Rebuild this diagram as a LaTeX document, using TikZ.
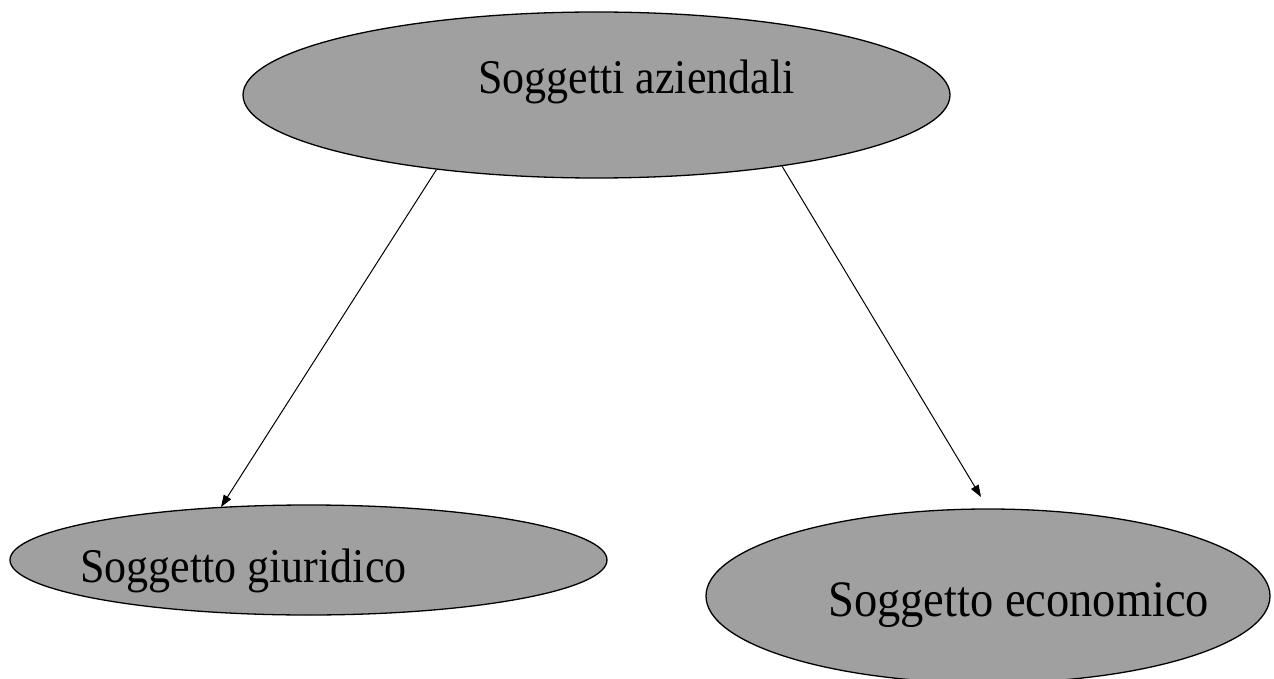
\documentclass[tikz,border=0pt]{standalone}
\usepackage{fontspec}
\setmainfont{Liberation Serif}
\usetikzlibrary{shapes.geometric,arrows.meta}
\definecolor{ovalgray}{RGB}{160,160,160}
\newcommand{\tallstretch}[1]{\scalebox{1}[1.1]{#1}}
\begin{document}
\begin{tikzpicture}[x=1pt,y=-1pt,
  oval/.style={ellipse,draw=black,line width=1.3pt,fill=ovalgray,inner sep=0pt},
  lbl/.style={anchor=base west,inner sep=0pt,font=\fontsize{44}{48}\selectfont},
  conn/.style={line width=1pt,-{Triangle[length=12pt,width=8.5pt]}}]
\useasboundingbox (0,0) rectangle (1274,679);
\node[oval,minimum width=707pt,minimum height=166pt] (top) at (596.5,95) {};
\node[oval,minimum width=597pt,minimum height=110pt] (left) at (308.5,560) {};
\node[oval,minimum width=564pt,minimum height=174pt] (right) at (988,596) {};
\node[lbl] (ttop) at (478,94) {\tallstretch{Soggetti aziendali}};
\node[lbl] (tleft) at (80,582) {\tallstretch{Soggetto giuridico}};
\node[lbl,font=\fontsize{46.5}{50}\selectfont] (tright) at (828,616) {\tallstretch{Soggetto economico}};
\coordinate (tipl) at (221,507);
\coordinate (tipr) at (981,497);
\draw[conn] (top.205) -- (tipl);
\draw[conn] (top.339) -- (tipr);
\end{tikzpicture}
\end{document}
